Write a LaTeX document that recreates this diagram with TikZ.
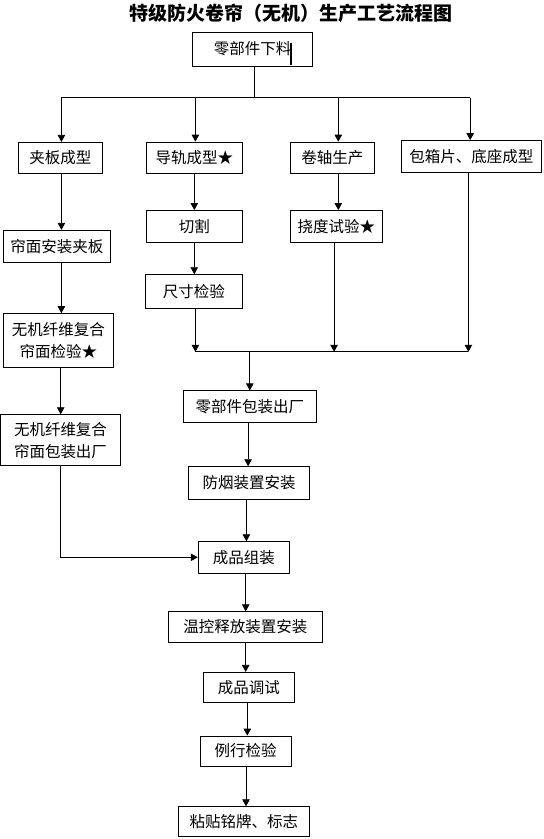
\documentclass[tikz,border=0pt]{standalone}
\usepackage{fontspec}
\setmainfont{Noto Sans CJK SC}
\usetikzlibrary{arrows.meta}
\begin{document}
\begin{tikzpicture}[x=1pt,y=-1pt,
  box/.style={draw,line width=0.8pt,inner sep=0pt,align=center,font=\fontsize{15.5}{22}\selectfont},
  conn/.style={line width=0.8pt},
  arr/.style={conn,-{Triangle[length=7pt,width=7.5pt]}}]
\useasboundingbox[fill=white] (0,0) rectangle (544,839);
% title
\node[font=\fontsize{19}{22}\selectfont\bfseries] (title) at (291,13) {特级防火卷帘（无机）生产工艺流程图};
% nodes
\node[box,minimum width=119.7pt,minimum height=33.6pt] (top) at (252.5,49.1) {零部件下料};
\draw[line width=1.6pt] (290.8,43) -- (290.8,65);
\node[box,minimum width=84pt,minimum height=31.2pt] (jiaban) at (60.4,157.9) {夹板成型};
\node[box,minimum width=95.8pt,minimum height=31.5pt] (daogui) at (194.3,157.8) {导轨成型★};
\node[box,minimum width=84pt,minimum height=31.5pt] (juanzhou) at (332.4,157.8) {卷轴生产};
\node[box,minimum width=139.8pt,minimum height=32pt] (baoxiang) at (471.4,156.5) {包箱片、底座成型};
\node[box,minimum width=95.8pt,minimum height=32.3pt] (qiege) at (194.3,226.6) {切割};
\node[box,minimum width=92pt,minimum height=32.3pt] (naodu) at (336.4,226.6) {挠度试验★};
\node[box,minimum width=106.8pt,minimum height=32.3pt] (lianmian) at (56.9,246.4) {帘面安装夹板};
\node[box,minimum width=96.8pt,minimum height=33.7pt] (chicun) at (193.8,291.5) {尺寸检验};
\node[box,minimum width=110pt,minimum height=54.1pt] (wuji1) at (58.5,340.6) {无机纤维复合\\帘面检验★};
\node[box,minimum width=119.9pt,minimum height=51pt] (wuji2) at (60.5,440.2) {无机纤维复合\\帘面包装出厂};
\node[box,minimum width=133.2pt,minimum height=31.2pt] (lingbao) at (249.8,406.4) {零部件包装出厂};
\node[box,minimum width=121.1pt,minimum height=32.3pt] (fangyan) at (249,482.8) {防烟装置安装};
\node[box,minimum width=91.3pt,minimum height=31.2pt] (zuzhuang) at (243.8,557.3) {成品组装};
\node[box,minimum width=154pt,minimum height=30.6pt] (wenkong) at (245.3,627) {温控释放装置安装};
\node[box,minimum width=91pt,minimum height=30pt] (tiaoshi) at (248.8,687.3) {成品调试};
\node[box,minimum width=91.3pt,minimum height=30pt] (lijian) at (245.7,751) {例行检验};
\node[box,minimum width=131pt,minimum height=30pt] (niantie) at (243.8,821.7) {粘贴铭牌、标志};
% coordinates for connectors
\coordinate (t0) at (254.3,97.8);
\coordinate (b1) at (61.4,97.8);
\coordinate (b2) at (195.4,97.8);
\coordinate (b3) at (338.3,97.8);
\coordinate (b4) at (470.2,97.8);
\coordinate (c1) at (195.4,351.8);
\coordinate (c2) at (334.1,351.8);
\coordinate (c3) at (468.4,351.8);
\coordinate (c0) at (249.8,351.8);
\coordinate (xl) at (61.4,0);
\coordinate (xl2) at (60.7,557.3);
\coordinate (xd) at (194.3,0);
\coordinate (x1) at (248.1,0);
\coordinate (x2) at (246.4,0);
\coordinate (x3) at (245.7,0);
\coordinate (x4) at (247.3,0);
\coordinate (x5) at (246,0);
% top distribution
\draw[conn] (top.south -| t0) -- (t0);
\draw[conn] (b1) -- (b4);
\draw[arr] (b1) -- (jiaban.north -| b1);
\draw[arr] (b2) -- (daogui.north -| b2);
\draw[arr] (b3) -- (juanzhou.north -| b3);
\draw[arr] (b4) -- (baoxiang.north -| b4);
% left column
\draw[arr] (jiaban.south -| xl) -- (lianmian.north -| xl);
\draw[arr] (lianmian.south -| xl) -- (wuji1.north -| xl);
\draw[arr] (wuji1.south -| xl2) -- (wuji2.north -| xl2);
\draw[arr] (wuji2.south -| xl2) -- (xl2) -- (zuzhuang.west);
% middle columns
\draw[arr] (daogui.south -| xd) -- (qiege.north -| xd);
\draw[arr] (qiege.south -| xd) -- (chicun.north -| xd);
\draw[arr] (chicun.south -| c1) -- (c1);
\draw[arr] (juanzhou.south -| b3) -- (naodu.north -| b3);
\draw[arr] (naodu.south -| c2) -- (c2);
\draw[arr] (baoxiang.south -| c3) -- (c3);
\draw[conn] (c1) -- (c3);
\draw[arr] (c0) -- (lingbao.north -| c0);
% main chain
\draw[arr] (lingbao.south -| x1) -- (fangyan.north -| x1);
\draw[arr] (fangyan.south -| x2) -- (zuzhuang.north -| x2);
\draw[arr] (zuzhuang.south -| x3) -- (wenkong.north -| x3);
\draw[arr] (wenkong.south -| x3) -- (tiaoshi.north -| x3);
\draw[arr] (tiaoshi.south -| x4) -- (lijian.north -| x4);
\draw[arr] (lijian.south -| x5) -- (niantie.north -| x5);
\end{tikzpicture}
\end{document}
